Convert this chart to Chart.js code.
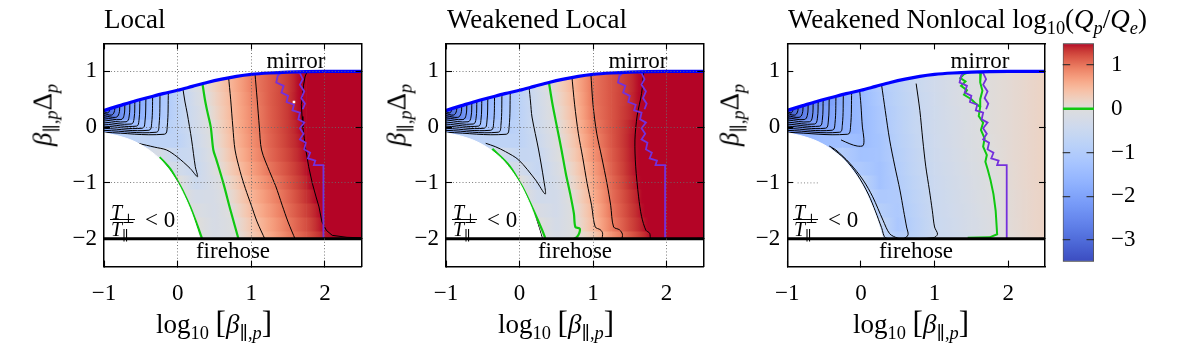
<!DOCTYPE html>
<html><head><meta charset="utf-8">
<script src="https://cdn.jsdelivr.net/npm/chart.js@4.4.1/dist/chart.umd.min.js"></script>
<style>
html,body{margin:0;padding:0;background:#fff;}
#wrap{position:relative;width:1196px;height:345px;overflow:hidden;font-family:"Liberation Serif","DejaVu Serif",serif;color:#000;}
canvas{position:absolute;top:0;}
.t{position:absolute;white-space:nowrap;line-height:1;}
.t sub{font-size:0.68em;vertical-align:-0.3em;line-height:0;}
.c{transform:translateX(-50%);}
.yl{transform:translate(-50%,-50%) rotate(-90deg);}
.br{font-size:1.15em;}
.bar{position:absolute;height:1px;background:#000;}
</style></head><body>
<div id="wrap">
<canvas id="c1" width="400" height="345" style="left:0px"></canvas>
<canvas id="c2" width="350" height="345" style="left:400px"></canvas>
<canvas id="c3" width="305" height="345" style="left:750px"></canvas>
<canvas id="c4" width="141" height="345" style="left:1055px"></canvas>

<div class="t" style="left:104px;top:6px;font-size:27px">Local</div>
<div class="t" style="left:447px;top:6px;font-size:27px">Weakened Local</div>
<div class="t" style="left:788px;top:6px;font-size:27px">Weakened Nonlocal log<sub>10</sub>(<i>Q</i><sub><i>p</i></sub>/<i>Q</i><sub><i>e</i></sub>)</div>

<div class="t c" style="left:296px;top:49px;font-size:23px">mirror</div>
<div class="t c" style="left:638px;top:49px;font-size:23px">mirror</div>
<div class="t c" style="left:980px;top:49px;font-size:23px">mirror</div>
<div class="t c" style="left:233px;top:239px;font-size:23px">firehose</div>
<div class="t c" style="left:575px;top:239px;font-size:23px">firehose</div>
<div class="t c" style="left:916px;top:239px;font-size:23px">firehose</div>

<div class="t" style="left:111px;top:201.5px;font-size:20px"><i>T</i><sub>⊥</sub></div>
<div class="bar" style="left:110px;top:219px;width:25px"></div>
<div class="t" style="left:111px;top:218.5px;font-size:20px"><i>T</i><sub>∥</sub></div>
<div class="t" style="left:145px;top:208px;font-size:23px">&lt; 0</div>

<div class="t" style="left:453px;top:201.5px;font-size:20px"><i>T</i><sub>⊥</sub></div>
<div class="bar" style="left:452px;top:219px;width:25px"></div>
<div class="t" style="left:453px;top:218.5px;font-size:20px"><i>T</i><sub>∥</sub></div>
<div class="t" style="left:487px;top:208px;font-size:23px">&lt; 0</div>

<div class="t" style="left:794px;top:201.5px;font-size:20px"><i>T</i><sub>⊥</sub></div>
<div class="bar" style="left:793px;top:219px;width:25px"></div>
<div class="t" style="left:794px;top:218.5px;font-size:20px"><i>T</i><sub>∥</sub></div>
<div class="t" style="left:828px;top:208px;font-size:23px">&lt; 0</div>

<div class="t c" style="left:214px;top:307px;font-size:27px">log<sub>10</sub> <span class="br">[</span><i>β</i><sub>∥,<i>p</i></sub><span class="br">]</span></div>
<div class="t c" style="left:556px;top:307px;font-size:27px">log<sub>10</sub> <span class="br">[</span><i>β</i><sub>∥,<i>p</i></sub><span class="br">]</span></div>
<div class="t c" style="left:911px;top:307px;font-size:27px">log<sub>10</sub> <span class="br">[</span><i>β</i><sub>∥,<i>p</i></sub><span class="br">]</span></div>

<div class="t yl" style="left:43px;top:115px;font-size:27px"><i>β</i><sub>∥,<i>p</i></sub>Δ<sub><i>p</i></sub></div>
<div class="t yl" style="left:397px;top:115px;font-size:27px"><i>β</i><sub>∥,<i>p</i></sub>Δ<sub><i>p</i></sub></div>
<div class="t yl" style="left:730px;top:115px;font-size:27px"><i>β</i><sub>∥,<i>p</i></sub>Δ<sub><i>p</i></sub></div>
</div>

<script>
// ---------------- data ----------------
const xNodes = [-1,-0.75,-0.5,-0.25,0,0.25,0.5,0.75,1,1.25,1.5,1.75,2,2.25,2.5];
const yRows  = [1,0.75,0.5,0.25,0,-0.25,-0.5,-0.75,-1,-1.25,-1.5,-1.75,-2];
const xTicks = [-1,0,1,2];
const yTicks = [-2,-1,0,1];
const cbarTicks = [-3,-2,-1,0,1];
const cbarRange = [-3.5,1.5];

const mirrorX = [-1,-0.8,-0.6,-0.4,-0.2,0,0.2,0.4,0.6,0.8,1.0,1.25,1.5,1.75,2,2.5];
const mirrorY = [0.30,0.38,0.46,0.53,0.60,0.66,0.73,0.80,0.86,0.91,0.945,0.97,0.985,0.993,0.997,1.0];
const negTX = [-1,-0.8,-0.6,-0.4,-0.2,0,0.1,0.2,0.3,0.32];
const negTY = [-0.10,-0.16,-0.25,-0.40,-0.63,-1.0,-1.26,-1.58,-2.0,-2.1];
const firehoseX = [-1,2.5];
const firehoseY = [-2,-2];

// log10(Qp/Qe) read on the grid (rows = yRows, columns = xNodes)
const heatLocal = [
 [-3.2,-2.6,-2.0,-1.4,-0.7,-0.14,0.23,0.57,0.92,1.14,1.33,1.6,2,2,2],
 [-3.2,-2.6,-2.0,-1.4,-0.7,-0.16,0.22,0.57,0.92,1.14,1.33,1.6,2,2,2],
 [-3.2,-2.4,-1.75,-1.25,-0.75,-0.23,0.18,0.54,0.89,1.14,1.34,1.6,2,2,2],
 [-3.2,-2.3,-1.7,-1.2,-0.75,-0.29,0.13,0.53,0.86,1.13,1.34,1.6,2,2,2],
 [-1.8,-1.6,-1.3,-1.0,-0.7,-0.34,0.08,0.5,0.85,1.12,1.33,1.55,2,2,2],
 [-0.8,-0.8,-0.7,-0.75,-0.75,-0.39,0.05,0.47,0.82,1.1,1.32,1.52,2,2,2],
 [-0.3,-0.3,-0.3,-0.2,-0.55,-0.45,-0.02,0.41,0.77,1.07,1.28,1.5,2,2,2],
 [-0.2,-0.2,-0.2,-0.2,-0.3,-0.52,-0.06,0.33,0.69,1.0,1.23,1.46,2,2,2],
 [0.05,0.05,0.05,0.05,0.05,-0.45,-0.15,0.22,0.61,0.9,1.17,1.42,1.7,2,2],
 [0.1,0.1,0.1,0.1,0.1,-0.25,-0.2,0.13,0.53,0.83,1.1,1.37,1.6,2,2],
 [0.1,0.1,0.1,0.1,0.1,-0.1,-0.22,0.05,0.45,0.76,1.05,1.3,1.55,2,2],
 [0.05,0.05,0.05,0.05,0.05,0.05,-0.2,-0.02,0.35,0.68,0.98,1.23,1.52,1.75,2],
 [0,0,0,0,0,0,-0.18,-0.06,0.3,0.62,0.93,1.17,1.45,1.55,1.6]
];
const heatWeakLocal = [
 [-3.2,-2.5,-2.0,-1.4,-0.85,-0.3,0.15,0.56,1.0,1.19,1.37,1.6,2,2,2],
 [-3.2,-2.5,-2.0,-1.4,-0.85,-0.3,0.15,0.56,1.0,1.19,1.37,1.6,2,2,2],
 [-3.2,-2.4,-1.75,-1.25,-0.8,-0.33,0.1,0.52,1.0,1.19,1.38,1.6,2,2,2],
 [-3.2,-2.3,-1.7,-1.2,-0.8,-0.35,0.05,0.48,0.98,1.19,1.39,1.6,2,2,2],
 [-1.8,-1.6,-1.3,-1.0,-0.75,-0.39,-0.02,0.43,0.92,1.19,1.42,1.6,2,2,2],
 [-0.8,-0.8,-0.75,-0.75,-0.75,-0.45,-0.06,0.38,0.86,1.18,1.43,1.6,2,2,2],
 [-0.3,-0.3,-0.3,-0.3,-0.6,-0.55,-0.1,0.32,0.79,1.15,1.42,1.6,2,2,2],
 [-0.3,-0.3,-0.3,-0.3,-0.3,-0.6,-0.18,0.24,0.71,1.12,1.41,1.6,2,2,2],
 [0.05,0.05,0.05,0.05,0.05,-0.52,-0.24,0.17,0.65,1.07,1.38,1.6,2,2,2],
 [0.1,0.1,0.1,0.1,0.1,-0.35,-0.3,0.1,0.58,1.04,1.33,1.58,2,2,2],
 [0.1,0.1,0.1,0.1,0.1,-0.15,-0.3,0.04,0.51,1.0,1.3,1.56,2,2,2],
 [0.05,0.05,0.05,0.05,0.05,0.05,-0.25,0.0,0.46,0.94,1.26,1.52,1.8,2,2],
 [0.05,0.05,0.05,0.05,0.05,0.05,-0.2,-0.02,0.3,0.8,1.15,1.45,1.75,2,2]
];
const heatWeakNonlocal = [
 [-3.4,-2.8,-2.3,-1.85,-1.48,-1.05,-0.78,-0.5,-0.35,-0.2,-0.05,0.02,0.07,0.13,0.2],
 [-3.4,-2.8,-2.3,-1.85,-1.48,-1.05,-0.78,-0.5,-0.35,-0.2,-0.05,0.02,0.07,0.13,0.2],
 [-3.4,-2.7,-2.2,-1.8,-1.5,-1.1,-0.8,-0.55,-0.37,-0.2,-0.05,0.02,0.07,0.13,0.2],
 [-3.3,-2.6,-2.1,-1.75,-1.5,-1.15,-0.84,-0.56,-0.38,-0.22,-0.08,0.02,0.07,0.13,0.2],
 [-2.3,-2.2,-2.0,-1.7,-1.52,-1.2,-0.86,-0.57,-0.39,-0.24,-0.09,0.02,0.07,0.13,0.2],
 [-1.6,-1.6,-1.4,-1.35,-1.45,-1.25,-0.89,-0.6,-0.4,-0.25,-0.1,0.01,0.07,0.13,0.2],
 [-1.0,-1.0,-1.0,-1.0,-1.3,-1.25,-0.92,-0.63,-0.42,-0.27,-0.12,0.0,0.07,0.13,0.2],
 [-1.0,-1.0,-1.0,-1.0,-1.1,-1.3,-0.96,-0.65,-0.44,-0.29,-0.15,-0.01,0.06,0.13,0.2],
 [-0.7,-0.7,-0.7,-0.7,-0.7,-1.3,-1.0,-0.7,-0.47,-0.31,-0.17,-0.03,0.06,0.13,0.2],
 [-0.6,-0.6,-0.6,-0.6,-0.6,-1.1,-1.05,-0.74,-0.48,-0.33,-0.19,-0.05,0.05,0.12,0.19],
 [-0.6,-0.6,-0.6,-0.6,-0.6,-0.9,-1.1,-0.78,-0.49,-0.35,-0.21,-0.07,0.05,0.12,0.19],
 [-0.6,-0.6,-0.6,-0.6,-0.6,-0.6,-1.15,-0.82,-0.5,-0.37,-0.23,-0.09,0.04,0.12,0.19],
 [-0.6,-0.6,-0.6,-0.6,-0.6,-0.6,-1.0,-0.8,-0.5,-0.4,-0.27,-0.12,0.03,0.11,0.18]
];

// contour lines, [x, y] pairs
const fanLines = [
 [[-1,0.28],[-0.95,0.255],[-0.927,0.29],[-0.92,0.36]],
 [[-1,0.245],[-0.90,0.215],[-0.862,0.27],[-0.852,0.38]],
 [[-1,0.205],[-0.84,0.175],[-0.797,0.24],[-0.785,0.41]],
 [[-1,0.167],[-0.77,0.135],[-0.728,0.21],[-0.716,0.44]],
 [[-1,0.128],[-0.70,0.095],[-0.66,0.18],[-0.648,0.47]],
 [[-1,0.09],[-0.63,0.055],[-0.592,0.15],[-0.58,0.50]],
 [[-1,0.054],[-0.56,0.017],[-0.525,0.12],[-0.512,0.53]],
 [[-1,0.018],[-0.48,-0.02],[-0.444,0.09],[-0.43,0.56]],
 [[-1,-0.022],[-0.39,-0.056],[-0.353,0.06],[-0.338,0.6]],
 [[-1,-0.058],[-0.29,-0.092],[-0.253,0.03],[-0.238,0.63]],
 [[-1,-0.093],[-0.18,-0.128],[-0.142,-0.01],[-0.125,0.66]]
];
const vLocal = [[0.07,0.70],[0.10,0.45],[0.13,0.25],[0.19,-0.23],[0.24,-0.71],[0.27,-0.89],[0.17,-0.74],[-0.01,-0.53],[-0.15,-0.41],[-0.31,-0.36],[-0.54,-0.29]];
const c05Local = [[0.69,0.92],[0.72,0.5],[0.75,0.0],[0.78,-0.41],[0.85,-0.8],[0.92,-1.1],[1.0,-1.4],[1.08,-1.7],[1.19,-2.02]];
const c10Local = [[1.05,0.97],[1.08,0.5],[1.11,0.0],[1.14,-0.41],[1.25,-0.8],[1.33,-1.05],[1.42,-1.4],[1.50,-1.7],[1.60,-2.02]];
const c15Local = [[1.76,1.0],[1.73,0.9],[1.71,0.75],[1.70,0.6],[1.68,0.4],[1.69,0.19],[1.70,0.0],[1.72,-0.2],[1.74,-0.4],[1.76,-0.55],[1.78,-0.71],[1.83,-1.01],[1.88,-1.25],[1.92,-1.43],[1.96,-1.7],[2.02,-1.85],[2.10,-1.94],[2.3,-1.975],[2.5,-1.985]];
const zeroLocalMain = [[0.335,0.80],[0.37,0.5],[0.40,0.3],[0.45,0.0],[0.485,-0.41],[0.53,-0.6],[0.62,-1.0],[0.72,-1.5],[0.83,-2.02]];
const zeroLocalLow = [[-0.245,-0.54],[-0.1,-0.75],[-0.01,-0.95],[0.08,-1.17],[0.17,-1.43],[0.25,-1.7],[0.33,-1.99]];

const vWeak = [[0.13,0.72],[0.15,0.45],[0.17,0.18],[0.26,-0.41],[0.33,-0.95],[0.35,-1.2],[0.22,-0.95],[-0.01,-0.59],[-0.19,-0.44],[-0.33,-0.35],[-0.46,-0.29]];
const c05Weak = [[0.71,0.94],[0.75,0.4],[0.80,-0.11],[0.86,-0.55],[0.92,-1.01],[0.98,-1.4],[1.03,-1.79],[1.10,-1.84],[1.13,-1.9],[1.12,-2.02]];
const c10Weak = [[0.97,0.97],[1.0,0.4],[1.05,-0.11],[1.12,-0.55],[1.19,-1.01],[1.24,-1.4],[1.28,-1.79],[1.36,-1.84],[1.40,-1.92],[1.39,-2.02]];
const c15Weak = [[1.69,1.0],[1.66,0.6],[1.60,0.2],[1.57,-0.23],[1.58,-0.7],[1.62,-1.25],[1.66,-1.6],[1.72,-1.85],[1.77,-1.9],[1.78,-2.02]];
const edgeWeak = [[-0.2,-0.62],[-0.05,-0.88],[0.08,-1.18],[0.18,-1.48],[0.27,-1.82],[0.31,-1.99]];
const zeroWeakMain = [[0.40,0.80],[0.45,0.4],[0.51,0.0],[0.57,-0.4],[0.63,-0.83],[0.69,-1.2],[0.74,-1.55],[0.76,-1.79],[0.82,-1.82],[0.81,-1.91],[0.78,-1.97],[0.72,-2.02]];
const zeroWeakLow = [[-0.37,-0.39],[-0.14,-0.69],[0.04,-1.08],[0.2,-1.52],[0.31,-1.85],[0.35,-1.99]];

const vNonloc = [[-0.02,0.70],[0.0,0.4],[0.02,0.0],[0.04,-0.2],[0.03,-0.33],[-0.05,-0.34],[-0.15,-0.30],[-0.27,-0.23]];
const uNonloc = [[0.28,0.76],[0.33,0.3],[0.39,-0.23],[0.46,-0.7],[0.53,-1.13],[0.58,-1.5],[0.62,-1.79],[0.64,-1.93],[0.58,-2.0],[0.5,-1.99],[0.39,-1.91],[0.30,-1.67],[0.16,-1.25],[0.03,-0.95],[-0.15,-0.65],[-0.34,-0.41],[-0.43,-0.34]];
const thirdNonloc = [[0.75,0.78],[0.80,0.3],[0.84,-0.23],[0.88,-0.7],[0.93,-1.13],[0.97,-1.5],[1.0,-1.79],[1.04,-1.92],[0.98,-1.985],[0.6,-1.995],[0.34,-1.99],[0.28,-1.8],[0.2,-1.52],[0.1,-1.2],[-0.05,-0.85],[-0.22,-0.57],[-0.4,-0.37]];
const zeroNonlocMain = [[1.50,1.0],[1.40,0.95],[1.35,0.88],[1.42,0.82],[1.36,0.74],[1.44,0.66],[1.40,0.58],[1.50,0.50],[1.56,0.42],[1.62,0.36],[1.60,0.2],[1.66,0.08],[1.63,-0.05],[1.68,-0.2],[1.66,-0.35],[1.71,-0.5],[1.69,-0.62],[1.72,-0.75],[1.76,-0.95],[1.80,-1.2],[1.83,-1.5],[1.85,-1.92],[1.75,-1.975],[1.45,-1.985]];
const zeroNonlocBranch = [[1.55,1.0],[1.63,0.97],[1.62,0.8],[1.65,0.65],[1.62,0.5],[1.62,0.36]];

const purpleMain = [[1.42,1.0],[1.36,0.92],[1.34,0.80],[1.44,0.74],[1.41,0.62],[1.50,0.56],[1.48,0.45],[1.58,0.40],[1.56,0.30],[1.66,0.26],[1.64,0.14],[1.72,0.08],[1.66,-0.02],[1.71,-0.12],[1.66,-0.22],[1.74,-0.28],[1.72,-0.40],[1.80,-0.46],[1.77,-0.56],[1.87,-0.60],[1.85,-0.68],[1.98,-0.68],[1.98,-2.02]];
const purpleBranch = [[1.42,1.0],[1.55,1.0],[1.66,0.97],[1.70,0.86],[1.66,0.76],[1.72,0.64],[1.68,0.52],[1.73,0.42],[1.70,0.32]];
const speckLocal = [[1.58,0.45]];
const gridStubsNonloc = [[[-0.86,1],[-0.58,1]],[[-0.86,-1],[-0.58,-1]]];

// ---------------- styling helpers ----------------
const FONT = "'Liberation Serif','DejaVu Serif',serif";
const GREEN = '#10c810';
const PURPLE = '#7430dc';
const CW = [[59,76,192],[68,90,204],[77,104,215],[87,117,225],[98,130,234],[108,142,241],[119,154,247],[130,165,251],[141,176,254],[152,185,255],[163,194,255],[174,201,253],[184,208,249],[194,213,244],[204,217,238],[213,219,230],[221,221,221],[229,216,209],[236,211,197],[241,204,184],[245,196,172],[247,187,159],[247,177,147],[247,166,134],[244,154,123],[241,141,111],[236,127,99],[229,112,89],[222,96,77],[213,80,66],[203,62,56],[192,40,47],[180,4,38]];

function cmap(v){
  let s = v < 0 ? 0.5*(v-cbarRange[0])/(0-cbarRange[0]) : 0.5+0.5*v/cbarRange[1];
  s = Math.max(0, Math.min(1, s));
  const f = s*(CW.length-1); const i = Math.min(CW.length-2, Math.floor(f)); const t = f-i;
  const a = CW[i], b = CW[i+1];
  return 'rgb(' + Math.round(a[0]+(b[0]-a[0])*t) + ',' + Math.round(a[1]+(b[1]-a[1])*t) + ',' + Math.round(a[2]+(b[2]-a[2])*t) + ')';
}
function fmt(v){ return v < 0 ? '\u2212' + Math.abs(v) : String(v); }
function pts(pairs){ return pairs.map(p => ({x:p[0], y:p[1]})); }
function zip(xs, ys){ return xs.map((x,i) => ({x:x, y:ys[i]})); }

function heatData(m){
  const out = [];
  for (let j = 0; j < yRows.length; j++) {
    for (let i = 0; i < xNodes.length-1; i++) {
      out.push({x:(xNodes[i]+xNodes[i+1])/2, y:[yRows[j]-0.125, yRows[j]+0.125], x0:xNodes[i], x1:xNodes[i+1], v0:m[j][i], v1:m[j][i+1]});
    }
  }
  return out;
}
function heatFill(c){
  const r = c.raw; const sx = c.chart.scales.x;
  if (!r || !sx || r.v0 === undefined) return cmap(0);
  const p0 = sx.getPixelForValue(r.x0), p1 = sx.getPixelForValue(r.x1);
  if (!isFinite(p0) || !isFinite(p1) || p0 === p1) return cmap((r.v0 + r.v1) / 2);
  const g = c.chart.ctx.createLinearGradient(p0, 0, p1, 0);
  for (let k = 0; k <= 6; k++) { const t = k/6; g.addColorStop(t, cmap(r.v0+(r.v1-r.v0)*t)); }
  return g;
}
function lineDS(data, o){
  return Object.assign({type:'line', data:data, pointRadius:0, borderWidth:1, borderColor:'#000', fill:false, tension:0, order:6}, o);
}

function tickAxis(pos, sizeFn, showLabels, drawGrid, tickVals, pad){
  const horiz = (pos === 'top' || pos === 'bottom');
  return {
    type:'linear', axis: horiz ? 'x' : 'y', position:pos,
    min: horiz ? -1 : -2.5, max: horiz ? 2.5 : 1.5, offset:false,
    afterBuildTicks: s => { s.ticks = tickVals.map(v => ({value:v})); },
    afterFit: sizeFn,
    grid:{offset:false, drawOnChartArea:drawGrid, drawTicks:true, tickLength:-6, tickColor:'#000', tickWidth:1.1,
          lineWidth:0.9, z:1,
          color: c => (c.tick && (c.tick.value === -2 || (c.tick.value === -1 && horiz))) ? 'rgba(0,0,0,0)' : '#6a6a6a'},
    border:{display:true, color:'#000', width:1.5, dash:[1,2.2], z:2},
    ticks:{display:showLabels, callback:fmt, autoSkip:false, maxRotation:0, padding:pad,
           font:{family:FONT, size:23}, color:'#000'}
  };
}

function makePanel(id, P){
  const ds = [];
  ds.push({type:'bar', data:heatData(P.heat), backgroundColor:heatFill, borderWidth:0,
           barPercentage:1, categoryPercentage:1, order:10});
  fanLines.forEach(l => ds.push(lineDS(pts(l), {tension:0.4})));
  P.black.forEach(l => ds.push(lineDS(pts(l), {tension:0.3})));
  (P.blackJag || []).forEach(l => ds.push(lineDS(pts(l), {tension:0})));
  (P.green || []).forEach(l => ds.push(lineDS(pts(l), {borderColor:GREEN, borderWidth:2.2, tension:0.3, order:5})));
  (P.greenJag || []).forEach(l => ds.push(lineDS(pts(l), {borderColor:GREEN, borderWidth:2.0, tension:0, order:5})));
  [purpleMain, purpleBranch].forEach(l => ds.push(lineDS(pts(l), {borderColor:PURPLE, borderWidth:1.8, tension:0, order:4})));
  (P.stubs || []).forEach(l => ds.push(lineDS(pts(l), {borderColor:'#777', borderWidth:0.9, borderDash:[1,2.2], order:3})));
  ds.push(lineDS(zip(negTX, negTY), {fill:'start', backgroundColor:'#fff', borderColor:'#fff', borderWidth:1, cubicInterpolationMode:'monotone', order:3}));
  ds.push(lineDS(zip(firehoseX, firehoseY), {fill:'start', backgroundColor:'#fff', borderColor:'#000', borderWidth:3, order:2}));
  ds.push(lineDS(zip(mirrorX, mirrorY), {fill:'end', backgroundColor:'#fff', borderColor:'#0000ff', borderWidth:3.2, cubicInterpolationMode:'monotone', order:1}));
  if (P.specks) ds.push(lineDS(pts(P.specks), {showLine:false, pointRadius:1.8, pointStyle:'rect', pointBackgroundColor:'#fff', pointBorderWidth:0, order:0}));

  return new Chart(document.getElementById(id), {
    type:'bar',
    data:{datasets:ds},
    options:{
      responsive:false, animation:false, devicePixelRatio:1, events:[],
      layout:{padding:0},
      plugins:{legend:{display:false}, tooltip:{enabled:false}},
      scales:{
        x: tickAxis('bottom', s => { s.height = 78.4; }, true, P.grid, xTicks, 20),
        x2: tickAxis('top', s => { s.height = 43.4; }, false, false, xTicks, 0),
        y: tickAxis('left', s => { s.width = P.leftW; }, true, P.grid, yTicks, 13),
        y2: tickAxis('right', s => { s.width = P.rightW; }, false, false, yTicks, 0)
      }
    }
  });
}

makePanel('c1', {heat:heatLocal, leftW:104, rightW:38.3, grid:true,
  black:[vLocal, c05Local, c10Local], blackJag:[c15Local], green:[zeroLocalMain, zeroLocalLow], specks:speckLocal});
makePanel('c2', {heat:heatWeakLocal, leftW:46, rightW:46.7, grid:true,
  black:[vWeak, c05Weak, c10Weak, c15Weak, edgeWeak], green:[zeroWeakMain, zeroWeakLow]});
makePanel('c3', {heat:heatWeakNonlocal, leftW:37.3, rightW:10, grid:false,
  black:[vNonloc, uNonloc, thirdNonloc], greenJag:[zeroNonlocMain, zeroNonlocBranch], stubs:gridStubsNonloc});

// ---------------- colorbar ----------------
function cbarFill(c){
  const sy = c.chart.scales.y; if (!sy) return cmap(0);
  const a = sy.getPixelForValue(cbarRange[0]), b = sy.getPixelForValue(cbarRange[1]);
  if (!isFinite(a) || !isFinite(b) || a === b) return cmap(0);
  const g = c.chart.ctx.createLinearGradient(0, a, 0, b);
  const n = 50;
  for (let k = 0; k <= n; k++) { g.addColorStop(k/n, cmap(cbarRange[0] + (cbarRange[1]-cbarRange[0])*k/n)); }
  return g;
}
new Chart(document.getElementById('c4'), {
  type:'bar',
  data:{datasets:[
    {type:'bar', data:[{x:0.5, y:[cbarRange[0], cbarRange[1]]}], backgroundColor:cbarFill, borderColor:'#555', borderWidth:1.2,
     borderSkipped:false, barPercentage:1, categoryPercentage:1, order:2},
    {type:'line', data:[{x:0,y:0},{x:1,y:0}], borderColor:GREEN, borderWidth:2.6, pointRadius:0, order:1}
  ]},
  options:{
    responsive:false, animation:false, devicePixelRatio:1, events:[],
    layout:{padding:{left:7.7, top:43.3, bottom:83.3, right:0}},
    plugins:{legend:{display:false}, tooltip:{enabled:false}},
    scales:{
      x:{type:'linear', min:0, max:1, display:false, offset:false, grid:{offset:false},
         afterBuildTicks: s => { s.ticks = [{value:0},{value:1}]; }},
      y:{type:'linear', position:'right', min:cbarRange[0], max:cbarRange[1],
         afterBuildTicks: s => { s.ticks = cbarTicks.map(v => ({value:v})); },
         afterFit: s => { s.width = 102; },
         grid:{drawOnChartArea:true, drawTicks:false, lineWidth:1.3, z:1,
               color: c => (c.tick && c.tick.value === 0) ? 'rgba(0,0,0,0)' : 'rgba(40,40,40,0.85)'},
         border:{display:false, dash:[7.5,16.3]},
         ticks:{padding:17, callback:fmt, font:{family:FONT, size:23}, color:'#000'}}
    }
  }
});
</script>
</body></html>
